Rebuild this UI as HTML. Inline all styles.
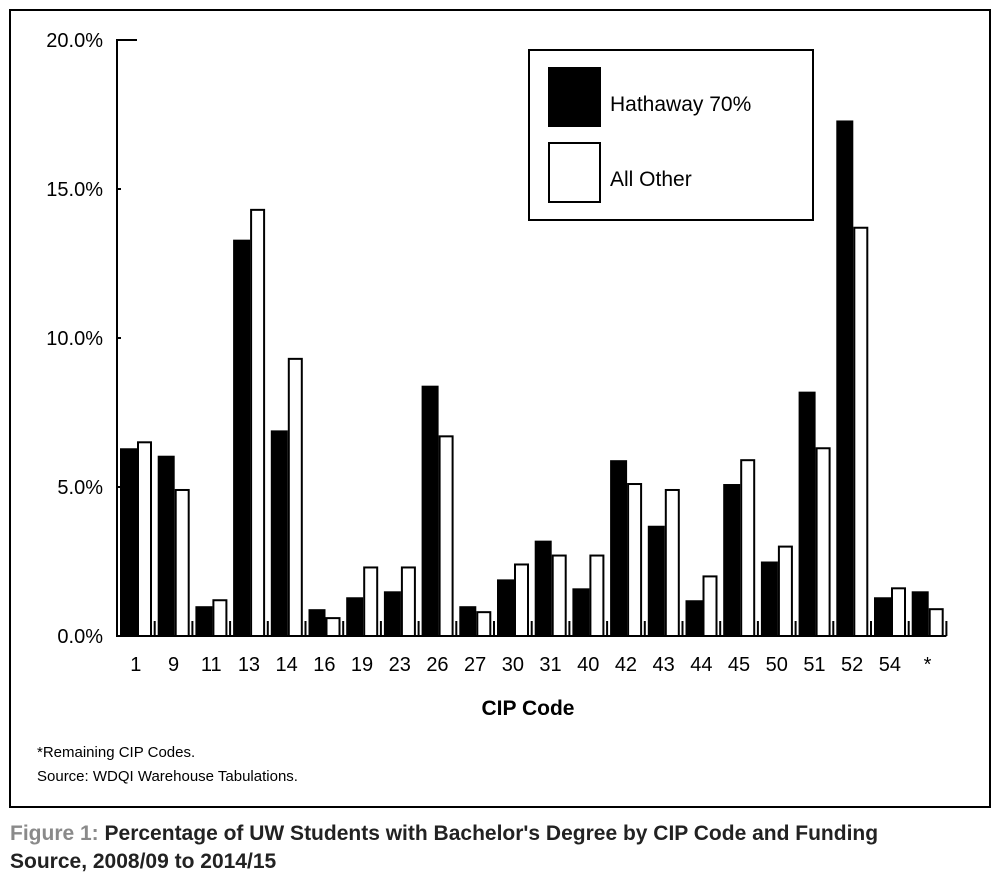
<!DOCTYPE html>
<html><head><meta charset="utf-8"><style>
body{margin:0;background:#fff;font-family:"Liberation Sans",sans-serif;}
svg{display:block}
</style></head><body>
<svg width="1000" height="883" viewBox="0 0 1000 883" xmlns="http://www.w3.org/2000/svg">
<rect x="10" y="10" width="980" height="797" fill="#fff" stroke="#000" stroke-width="2"/>
<g id="bars"></g>
<g id="axes"></g>
<g>
<rect x="529" y="50" width="284" height="170" fill="#fff" stroke="#000" stroke-width="2"/>
<rect x="548" y="67" width="53" height="60" fill="#000"/>
<text x="610" y="111" font-size="21">Hathaway 70%</text>
<rect x="549" y="143" width="51" height="59" fill="#fff" stroke="#000" stroke-width="2"/>
<text x="610" y="186" font-size="21">All Other</text>
</g>
<text x="528" y="715" font-size="21" font-weight="bold" text-anchor="middle">CIP Code</text>
<text x="37" y="757" font-size="15">*Remaining CIP Codes.</text>
<text x="37" y="781" font-size="15">Source: WDQI Warehouse Tabulations.</text>
<text x="10" y="840" font-size="21" font-weight="bold"><tspan fill="#8a8a8a">Figure 1:</tspan><tspan fill="#222"> Percentage of UW Students with Bachelor's Degree by CIP Code and Funding</tspan></text>
<text x="10" y="868" font-size="21" font-weight="bold" fill="#222">Source, 2008/09 to 2014/15</text>
</svg>
<script>
const categories=["1","9","11","13","14","16","19","23","26","27","30","31","40","42","43","44","45","50","51","52","54","*"];
const hathaway=[6.3,6.05,1.0,13.3,6.9,0.9,1.3,1.5,8.4,1.0,1.9,3.2,1.6,5.9,3.7,1.2,5.1,2.5,8.2,17.3,1.3,1.5];
const allOther=[6.5,4.9,1.2,14.3,9.3,0.6,2.3,2.3,6.7,0.8,2.4,2.7,2.7,5.1,4.9,2.0,5.9,3.0,6.3,13.7,1.6,0.9];
const yTicks=[0,5,10,15,20];
const yTickLabels=["0.0%","5.0%","10.0%","15.0%","20.0%"];
const NS="http://www.w3.org/2000/svg";
const x0=117,pitch=37.7,y0=636,yMax=20,yTop=40;
const yScale=v=>y0-(v/yMax)*(y0-yTop);
const xGroup=i=>x0+i*pitch;
function mk(tag,attrs,parent){const e=document.createElementNS(NS,tag);for(const k in attrs)e.setAttribute(k,attrs[k]);parent.appendChild(e);return e;}
const bars=document.getElementById('bars'),axes=document.getElementById('axes');
categories.forEach((c,i)=>{
 const gx=xGroup(i);
 const b=mk('rect',{x:gx+3,y:yScale(hathaway[i]),width:17,height:y0-yScale(hathaway[i]),fill:'#000'},bars);
 
 
 const w=mk('rect',{x:gx+21,y:yScale(allOther[i]),width:13,height:y0-yScale(allOther[i]),fill:'#fff',stroke:'#000','stroke-width':2},bars);
 
 
 const t=mk('line',{x1:gx+pitch,x2:gx+pitch,y1:y0-15,y2:y0,stroke:'#000','stroke-width':2},axes);
 
 
 const l=mk('text',{x:gx+pitch/2,y:671,'font-size':20,'text-anchor':'middle'},axes);
 l.textContent=c;
 
 
});
const ya=mk('line',{x1:x0,x2:x0,y1:yTop-1,y2:y0+1,stroke:'#000','stroke-width':2},axes);


const xa=mk('line',{x1:x0,x2:xGroup(categories.length),y1:y0,y2:y0,stroke:'#000','stroke-width':2},axes);


yTicks.forEach((v,i)=>{
 const y=yScale(v);
 const t=mk('line',{x1:x0,x2:x0+(v===yMax?20:4),y1:y,y2:y,stroke:'#000','stroke-width':2},axes);
 
 
 const l=mk('text',{x:103,y:y+7,'font-size':20,'text-anchor':'end'},axes);
 l.textContent=yTickLabels[i];
 
 
});
</script>
</body></html>
